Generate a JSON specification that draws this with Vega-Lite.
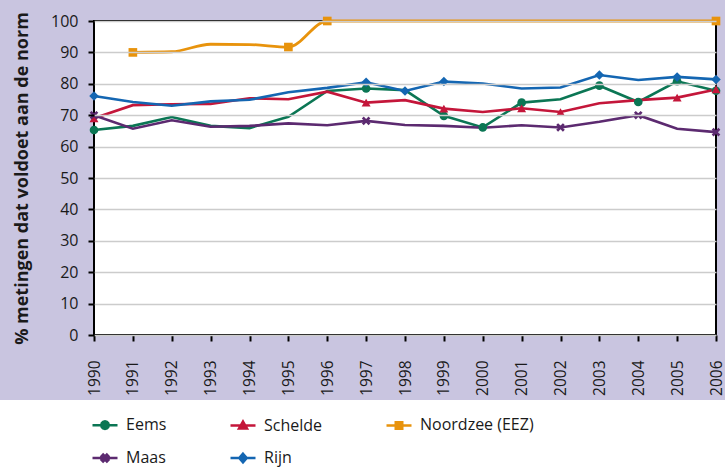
{
  "$schema": "https://vega.github.io/schema/vega-lite/v6.json",
  "width": 725,
  "height": 400,
  "autosize": {"type": "none"},
  "padding": {"left": 0, "top": 0, "right": 0, "bottom": 71},
  "background": "#ffffff",
  "config": {
    "view": {"stroke": null, "fill": "#c9c5e0"},
    "font": "Open Sans"
  },
  "data": {
    "values": [
      {"series": "Eems", "year": 1990, "value": 65.3, "marker": true},
      {"series": "Eems", "year": 1991, "value": 66.6, "marker": false},
      {"series": "Eems", "year": 1992, "value": 69.4, "marker": false},
      {"series": "Eems", "year": 1993, "value": 66.6, "marker": false},
      {"series": "Eems", "year": 1994, "value": 65.9, "marker": false},
      {"series": "Eems", "year": 1995, "value": 69.5, "marker": false},
      {"series": "Eems", "year": 1996, "value": 77.7, "marker": false},
      {"series": "Eems", "year": 1997, "value": 78.5, "marker": true},
      {"series": "Eems", "year": 1998, "value": 78.0, "marker": false},
      {"series": "Eems", "year": 1999, "value": 69.8, "marker": true},
      {"series": "Eems", "year": 2000, "value": 66.1, "marker": true},
      {"series": "Eems", "year": 2001, "value": 74.0, "marker": true},
      {"series": "Eems", "year": 2002, "value": 75.1, "marker": false},
      {"series": "Eems", "year": 2003, "value": 79.4, "marker": true},
      {"series": "Eems", "year": 2004, "value": 74.2, "marker": true},
      {"series": "Eems", "year": 2005, "value": 80.8, "marker": true},
      {"series": "Eems", "year": 2006, "value": 77.8, "marker": true},

      {"series": "Schelde", "year": 1990, "value": 69.0, "marker": true},
      {"series": "Schelde", "year": 1991, "value": 73.2, "marker": false},
      {"series": "Schelde", "year": 1992, "value": 73.5, "marker": false},
      {"series": "Schelde", "year": 1993, "value": 73.6, "marker": false},
      {"series": "Schelde", "year": 1994, "value": 75.4, "marker": false},
      {"series": "Schelde", "year": 1995, "value": 75.1, "marker": false},
      {"series": "Schelde", "year": 1996, "value": 77.5, "marker": false},
      {"series": "Schelde", "year": 1997, "value": 74.0, "marker": true},
      {"series": "Schelde", "year": 1998, "value": 74.8, "marker": false},
      {"series": "Schelde", "year": 1999, "value": 72.1, "marker": true},
      {"series": "Schelde", "year": 2000, "value": 71.0, "marker": false},
      {"series": "Schelde", "year": 2001, "value": 72.2, "marker": true},
      {"series": "Schelde", "year": 2002, "value": 71.0, "marker": true},
      {"series": "Schelde", "year": 2003, "value": 73.8, "marker": false},
      {"series": "Schelde", "year": 2004, "value": 74.8, "marker": false},
      {"series": "Schelde", "year": 2005, "value": 75.6, "marker": true},
      {"series": "Schelde", "year": 2006, "value": 78.2, "marker": true},

      {"series": "Noordzee (EEZ)", "year": 1991, "value": 90.0, "marker": true},
      {"series": "Noordzee (EEZ)", "year": 1992, "value": 90.2, "marker": false},
      {"series": "Noordzee (EEZ)", "year": 1993, "value": 92.6, "marker": false},
      {"series": "Noordzee (EEZ)", "year": 1994, "value": 92.5, "marker": false},
      {"series": "Noordzee (EEZ)", "year": 1995, "value": 91.7, "marker": true},
      {"series": "Noordzee (EEZ)", "year": 1996, "value": 100, "marker": true},
      {"series": "Noordzee (EEZ)", "year": 1997, "value": 100, "marker": false},
      {"series": "Noordzee (EEZ)", "year": 1998, "value": 100, "marker": false},
      {"series": "Noordzee (EEZ)", "year": 1999, "value": 100, "marker": false},
      {"series": "Noordzee (EEZ)", "year": 2000, "value": 100, "marker": false},
      {"series": "Noordzee (EEZ)", "year": 2001, "value": 100, "marker": false},
      {"series": "Noordzee (EEZ)", "year": 2002, "value": 100, "marker": false},
      {"series": "Noordzee (EEZ)", "year": 2003, "value": 100, "marker": false},
      {"series": "Noordzee (EEZ)", "year": 2004, "value": 100, "marker": false},
      {"series": "Noordzee (EEZ)", "year": 2005, "value": 100, "marker": false},
      {"series": "Noordzee (EEZ)", "year": 2006, "value": 100, "marker": true},

      {"series": "Maas", "year": 1990, "value": 70.0, "marker": true},
      {"series": "Maas", "year": 1991, "value": 65.7, "marker": false},
      {"series": "Maas", "year": 1992, "value": 68.4, "marker": false},
      {"series": "Maas", "year": 1993, "value": 66.3, "marker": false},
      {"series": "Maas", "year": 1994, "value": 66.6, "marker": false},
      {"series": "Maas", "year": 1995, "value": 67.4, "marker": false},
      {"series": "Maas", "year": 1996, "value": 66.8, "marker": false},
      {"series": "Maas", "year": 1997, "value": 68.2, "marker": true},
      {"series": "Maas", "year": 1998, "value": 66.9, "marker": false},
      {"series": "Maas", "year": 1999, "value": 66.6, "marker": false},
      {"series": "Maas", "year": 2000, "value": 66.0, "marker": false},
      {"series": "Maas", "year": 2001, "value": 66.8, "marker": false},
      {"series": "Maas", "year": 2002, "value": 66.1, "marker": true},
      {"series": "Maas", "year": 2003, "value": 67.9, "marker": false},
      {"series": "Maas", "year": 2004, "value": 70.0, "marker": true},
      {"series": "Maas", "year": 2005, "value": 65.7, "marker": false},
      {"series": "Maas", "year": 2006, "value": 64.6, "marker": true},

      {"series": "Rijn", "year": 1990, "value": 76.1, "marker": true},
      {"series": "Rijn", "year": 1991, "value": 74.2, "marker": false},
      {"series": "Rijn", "year": 1992, "value": 73.0, "marker": false},
      {"series": "Rijn", "year": 1993, "value": 74.4, "marker": false},
      {"series": "Rijn", "year": 1994, "value": 74.9, "marker": false},
      {"series": "Rijn", "year": 1995, "value": 77.3, "marker": false},
      {"series": "Rijn", "year": 1996, "value": 78.7, "marker": false},
      {"series": "Rijn", "year": 1997, "value": 80.5, "marker": true},
      {"series": "Rijn", "year": 1998, "value": 77.7, "marker": true},
      {"series": "Rijn", "year": 1999, "value": 80.7, "marker": true},
      {"series": "Rijn", "year": 2000, "value": 80.1, "marker": false},
      {"series": "Rijn", "year": 2001, "value": 78.5, "marker": false},
      {"series": "Rijn", "year": 2002, "value": 78.8, "marker": false},
      {"series": "Rijn", "year": 2003, "value": 82.8, "marker": true},
      {"series": "Rijn", "year": 2004, "value": 81.2, "marker": false},
      {"series": "Rijn", "year": 2005, "value": 82.2, "marker": true},
      {"series": "Rijn", "year": 2006, "value": 81.4, "marker": true}
    ]
  },
  "layer": [
    {
      "data": {"values": [{}]},
      "mark": {"type": "rect", "fill": "#ffffff", "stroke": "#000000", "strokeWidth": 2},
      "encoding": {
        "x": {"datum": 1990, "type": "quantitative",
              "scale": {"domain": [1990, 2006], "range": [94, 716], "nice": false, "zero": false},
              "axis": {"title": null, "values": [1990,1991,1992,1993,1994,1995,1996,1997,1998,1999,2000,2001,2002,2003,2004,2005,2006],
                       "tickCount": 17,
                       "format": "d", "labelAngle": -90, "labelAlign": "right", "labelBaseline": "middle",
                       "labelFontSize": 15.5, "labelColor": "#1a1a1a", "labelPadding": 19,
                       "tickSize": 6, "tickColor": "#000000", "tickWidth": 2,
                       "domain": false, "grid": false, "offset": -65, "labelFlush": false, "labelOverlap": false}},
        "x2": {"datum": 2006},
        "y": {"datum": 0, "type": "quantitative",
              "scale": {"domain": [0, 100], "range": [335, 21], "nice": false, "zero": false},
              "axis": {"title": "% metingen dat voldoet aan de norm", "titleFontSize": 18, "titleFontWeight": "bold",
                       "titleColor": "#1a1a1a", "titlePadding": 19,
                       "values": [0,10,20,30,40,50,60,70,80,90,100], "tickCount": 11,
                       "labelFontSize": 16, "labelColor": "#1a1a1a", "labelPadding": 10,
                       "tickSize": 6, "tickColor": "#000000", "tickWidth": 2,
                       "domain": false, "grid": true, "gridWidth": 1.5, "gridColor": "#cccccc",
                       "offset": -94, "zindex": 1, "labelFlush": false, "labelOverlap": false}},
        "y2": {"datum": 100}
      }
    },
    {
      "transform": [{"filter": "datum.series !== 'Noordzee (EEZ)'"}],
      "mark": {"type": "line", "strokeWidth": 2.6},
      "encoding": {
        "x": {"field": "year", "type": "quantitative"},
        "y": {"field": "value", "type": "quantitative"},
        "color": {"field": "series", "type": "nominal",
                  "scale": {"domain": ["Eems", "Schelde", "Noordzee (EEZ)", "Maas", "Rijn"],
                            "range": ["#0b7654", "#c4163a", "#e8930c", "#5c2a70", "#1466b2"]},
                  "legend": {"title": null, "orient": "none", "legendX": 91, "legendY": 411,
                             "direction": "horizontal", "columns": 3, "columnPadding": 58, "rowPadding": 10, "padding": 0,
                             "symbolSize": 625, "symbolStrokeWidth": 2.5, "symbolOpacity": 1, "labelOffset": 7,
                             "labelFontSize": 16, "labelColor": "#1a1a1a", "labelFont": "Open Sans"}}
      }
    },
    {
      "transform": [{"filter": "datum.series === 'Noordzee (EEZ)'"}],
      "mark": {"type": "line", "strokeWidth": 2.8, "interpolate": "monotone"},
      "encoding": {
        "x": {"field": "year", "type": "quantitative"},
        "y": {"field": "value", "type": "quantitative"},
        "color": {"field": "series", "type": "nominal", "legend": null,
                  "scale": {"domain": ["Eems", "Schelde", "Noordzee (EEZ)", "Maas", "Rijn"],
                            "range": ["#0b7654", "#c4163a", "#e8930c", "#5c2a70", "#1466b2"]}}
      }
    },
    {
      "mark": {"type": "point", "filled": true, "opacity": 0},
      "encoding": {
        "x": {"field": "year", "type": "quantitative"},
        "y": {"field": "value", "type": "quantitative"},
        "color": {"field": "series", "type": "nominal", "legend": null,
                  "scale": {"domain": ["Eems", "Schelde", "Noordzee (EEZ)", "Maas", "Rijn"],
                            "range": ["#0b7654", "#c4163a", "#e8930c", "#5c2a70", "#1466b2"]}},
        "shape": {"field": "series", "type": "nominal", "legend": null,
                  "scale": {"domain": ["Eems", "Schelde", "Noordzee (EEZ)", "Maas", "Rijn"],
                            "range": [
                              "M-1,0H1M0.3,0L0.26,0.15L0.15,0.26L0,0.3L-0.15,0.26L-0.26,0.15L-0.3,0L-0.26,-0.15L-0.15,-0.26L0,-0.3L0.15,-0.26L0.26,-0.15Z",
                              "M-1,0H1M0,-0.32L0.32,0.24L-0.32,0.24Z",
                              "M-1,0H1M-0.26,-0.26H0.26V0.26H-0.26Z",
                              "M-1,0H1M0.15,-0.27L0.27,-0.15L0.12,0L0.27,0.15L0.15,0.27L0,0.12L-0.15,0.27L-0.27,0.15L-0.12,0L-0.27,-0.15L-0.15,-0.27L0,-0.12Z",
                              "M-1,0H1M0,-0.34L0.3,0L0,0.34L-0.3,0Z"]}}
      }
    },
    {
      "transform": [{"filter": "datum.marker && datum.series === 'Eems'"}],
      "mark": {"type": "point", "filled": true, "opacity": 1, "size": 75, "shape": "circle"},
      "encoding": {
        "x": {"field": "year", "type": "quantitative"},
        "y": {"field": "value", "type": "quantitative"},
        "color": {"field": "series", "type": "nominal", "legend": null,
                  "scale": {"domain": ["Eems", "Schelde", "Noordzee (EEZ)", "Maas", "Rijn"],
                            "range": ["#0b7654", "#c4163a", "#e8930c", "#5c2a70", "#1466b2"]}}
      }
    },
    {
      "transform": [{"filter": "datum.marker && datum.series === 'Schelde'"}],
      "mark": {"type": "point", "filled": true, "opacity": 1, "size": 80, "shape": "triangle-up"},
      "encoding": {
        "x": {"field": "year", "type": "quantitative"},
        "y": {"field": "value", "type": "quantitative"},
        "color": {"field": "series", "type": "nominal", "legend": null,
                  "scale": {"domain": ["Eems", "Schelde", "Noordzee (EEZ)", "Maas", "Rijn"],
                            "range": ["#0b7654", "#c4163a", "#e8930c", "#5c2a70", "#1466b2"]}}
      }
    },
    {
      "transform": [{"filter": "datum.marker && datum.series === 'Noordzee (EEZ)'"}],
      "mark": {"type": "point", "filled": true, "opacity": 1, "size": 75, "shape": "square"},
      "encoding": {
        "x": {"field": "year", "type": "quantitative"},
        "y": {"field": "value", "type": "quantitative"},
        "color": {"field": "series", "type": "nominal", "legend": null,
                  "scale": {"domain": ["Eems", "Schelde", "Noordzee (EEZ)", "Maas", "Rijn"],
                            "range": ["#0b7654", "#c4163a", "#e8930c", "#5c2a70", "#1466b2"]}}
      }
    },
    {
      "transform": [{"filter": "datum.marker && datum.series === 'Maas'"}],
      "mark": {"type": "point", "filled": true, "opacity": 1, "size": 90,
               "shape": "M0.51,-0.91L0.91,-0.51L0.4,0L0.91,0.51L0.51,0.91L0,0.4L-0.51,0.91L-0.91,0.51L-0.4,0L-0.91,-0.51L-0.51,-0.91L0,-0.4Z"},
      "encoding": {
        "x": {"field": "year", "type": "quantitative"},
        "y": {"field": "value", "type": "quantitative"},
        "color": {"field": "series", "type": "nominal", "legend": null,
                  "scale": {"domain": ["Eems", "Schelde", "Noordzee (EEZ)", "Maas", "Rijn"],
                            "range": ["#0b7654", "#c4163a", "#e8930c", "#5c2a70", "#1466b2"]}}
      }
    },
    {
      "transform": [{"filter": "datum.marker && datum.series === 'Rijn'"}],
      "mark": {"type": "point", "filled": true, "opacity": 1, "size": 90, "shape": "diamond"},
      "encoding": {
        "x": {"field": "year", "type": "quantitative"},
        "y": {"field": "value", "type": "quantitative"},
        "color": {"field": "series", "type": "nominal", "legend": null,
                  "scale": {"domain": ["Eems", "Schelde", "Noordzee (EEZ)", "Maas", "Rijn"],
                            "range": ["#0b7654", "#c4163a", "#e8930c", "#5c2a70", "#1466b2"]}}
      }
    }
  ]
}
